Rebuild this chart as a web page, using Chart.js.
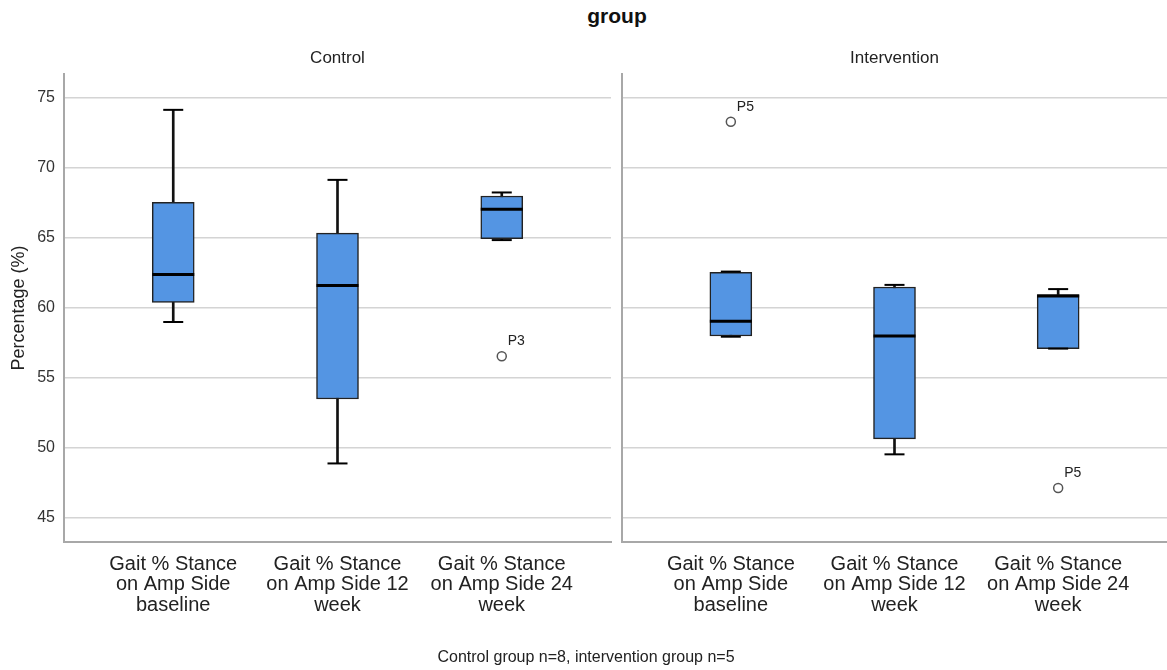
<!DOCTYPE html>
<html>
<head>
<meta charset="utf-8">
<script src="https://cdn.jsdelivr.net/npm/chart.js@4"></script>
<style>
	body { margin: 0; background: #fff; }
	#wrap { position: relative; width: 1167px; height: 670px; overflow: hidden; font-family: 'Liberation Sans', Arial, sans-serif; color: #222; }
	canvas { position: absolute; top: 0; }
	#left { left: 0; }
	#right { left: 616px; }
	.txt { position: absolute; text-align: center; white-space: nowrap; }
	#mainTitle { left: 467px; width: 300px; top: 4px; line-height: 24px; font-size: 21px; font-weight: bold; color: #111; }
	#footer { left: 336px; width: 500px; top: 647px; line-height: 20px; font-size: 16px; }
</style>
</head>
<body>
<div id="wrap">
	<div id="mainTitle" class="txt">group</div>
	<canvas id="left" width="616" height="670"></canvas>
	<canvas id="right" width="551" height="670"></canvas>
	<div id="footer" class="txt">Control group n=8, intervention group n=5</div>
</div>
<script>
/*************************
DATA
*************************/

//the three time points, one label line per entry
const categories = [
	['Gait % Stance', 'on Amp Side', 'baseline'],
	['Gait % Stance', 'on Amp Side 12', 'week'],
	['Gait % Stance', 'on Amp Side 24', 'week'],
];

const yTicks = [45, 50, 55, 60, 65, 70, 75];

//control group box plot values
const controlMin = [59.0, 48.9, 64.85];
const controlQ1 = [60.4, 53.5, 64.95];
const controlMedian = [62.4, 61.6, 67.05];
const controlQ3 = [67.55, 65.35, 68.0];
const controlMax = [74.15, 69.15, 68.25];
const controlOutlierX = [2];
const controlOutlierY = [56.55];
const controlOutlierLabels = ['P3'];

//intervention group box plot values
const interventionMin = [57.95, 49.55, 57.1];
const interventionQ1 = [58.0, 50.65, 57.1];
const interventionMedian = [59.05, 58.0, 60.85];
const interventionQ3 = [62.55, 61.5, 60.95];
const interventionMax = [62.6, 61.65, 61.35];
const interventionOutlierX = [0, 2];
const interventionOutlierY = [73.3, 47.15];
const interventionOutlierLabels = ['P5', 'P5'];

/*************************
STYLE
*************************/

const fontFamily = "'Liberation Sans', Arial, sans-serif";
const boxColor = '#5495e3';
const gridColor = '#d4d4d4';
const axisColor = '#a8a8a8';
const textColor = '#222';

Chart.defaults.font.family = fontFamily;
Chart.defaults.color = textColor;

//writes the case labels next to the outlier circles
const outlierLabelPlugin = {
	id: 'outlierLabels',
	afterDatasetsDraw(chart){
		const ctx = chart.ctx;
		chart.data.datasets.forEach((ds, i) => {
			if(!ds.caseLabels) return;
			const meta = chart.getDatasetMeta(i);
			ctx.save();
			ctx.font = '14px ' + fontFamily;
			ctx.fillStyle = textColor;
			ctx.textAlign = 'left';
			ctx.textBaseline = 'middle';
			meta.data.forEach((pt, j) => {
				ctx.fillText(ds.caseLabels[j], pt.x + 6, pt.y - 15);
			});
			ctx.restore();
		});
	}
};

function points(values){
	return values.map((v, i) => ({x: i, y: v}));
}

function lineMark(values, radius, width, order){
	return {
		type: 'scatter',
		data: points(values),
		pointStyle: 'line',
		pointRadius: radius,
		pointHoverRadius: radius,
		pointBorderWidth: width,
		pointBorderColor: '#000',
		borderColor: '#000',
		order: order,
	};
}

//this builds one panel of the box plot
function CreatePanel(canvasId, title, mins, q1s, medians, q3s, maxs, outX, outY, outLabels, showY){
	const canvas = document.getElementById(canvasId).getContext('2d');
	return new Chart(canvas, {
		type: 'bar',
		data: {
			datasets: [
				{
					//whisker
					data: mins.map((v, i) => ({x: i, y: [v, maxs[i]]})),
					backgroundColor: '#111',
					borderWidth: 0,
					barThickness: 2,
					grouped: false,
					order: 6,
				},
				{
					//box
					data: q1s.map((v, i) => ({x: i, y: [v, q3s[i]]})),
					backgroundColor: boxColor,
					borderColor: '#222',
					borderWidth: 1.5,
					borderSkipped: false,
					barThickness: 42,
					grouped: false,
					order: 5,
				},
				lineMark(mins, 10, 2, 4),
				lineMark(maxs, 10, 2, 4),
				lineMark(medians, 21, 3, 3),
				{
					type: 'scatter',
					data: outX.map((x, i) => ({x: x, y: outY[i]})),
					caseLabels: outLabels,
					pointStyle: 'circle',
					pointRadius: 4.5,
					pointHoverRadius: 4.5,
					pointBorderWidth: 1.5,
					pointBorderColor: '#555',
					pointBackgroundColor: '#fff',
					order: 1,
				},
			],
		},
		options: {
			responsive: false,
			devicePixelRatio: 1,
			animation: false,
			events: [],
			layout: {autoPadding: false, padding: {top: 0, left: 0, right: showY ? 5 : 0, bottom: 0}},
			plugins: {
				legend: {display: false},
				tooltip: {enabled: false},
				title: {
					display: true,
					text: title,
					fullSize: false,
					font: {size: 17, weight: 'normal'},
					color: textColor,
					padding: {top: 48, bottom: 5.6},
				},
			},
			scales: {
				x: {
					type: 'linear',
					offset: false,
					min: -0.665,
					max: 2.665,
					afterBuildTicks: s => { s.ticks = categories.map((c, i) => ({value: i})); },
					afterFit: s => { s.height = 128; },
					grid: {display: false, offset: false},
					border: {display: true, color: axisColor, width: 2},
					ticks: {
						callback: (v, i) => categories[i],
						font: {size: 20, lineHeight: 1.03},
						color: textColor,
						padding: 4,
						maxRotation: 0,
						minRotation: 0,
						autoSkip: false,
					},
				},
				y: {
					min: 43.29,
					max: 76.71,
					afterBuildTicks: s => { s.ticks = yTicks.map(v => ({value: v})); },
					afterFit: s => { s.width = showY ? 64 : 6; },
					grid: {color: gridColor, lineWidth: 1.5, drawTicks: false},
					border: {display: true, color: axisColor, width: 2},
					ticks: {display: showY, padding: 9, font: {size: 16}, color: '#333'},
					title: {
						display: showY,
						text: 'Percentage (%)',
						font: {size: 18},
						color: textColor,
						padding: {top: 8, bottom: 0},
					},
				},
			},
		},
		plugins: [outlierLabelPlugin],
	});
}

CreatePanel('left', 'Control', controlMin, controlQ1, controlMedian, controlQ3, controlMax,
	controlOutlierX, controlOutlierY, controlOutlierLabels, true);
CreatePanel('right', 'Intervention', interventionMin, interventionQ1, interventionMedian, interventionQ3, interventionMax,
	interventionOutlierX, interventionOutlierY, interventionOutlierLabels, false);
</script>
</body>
</html>
